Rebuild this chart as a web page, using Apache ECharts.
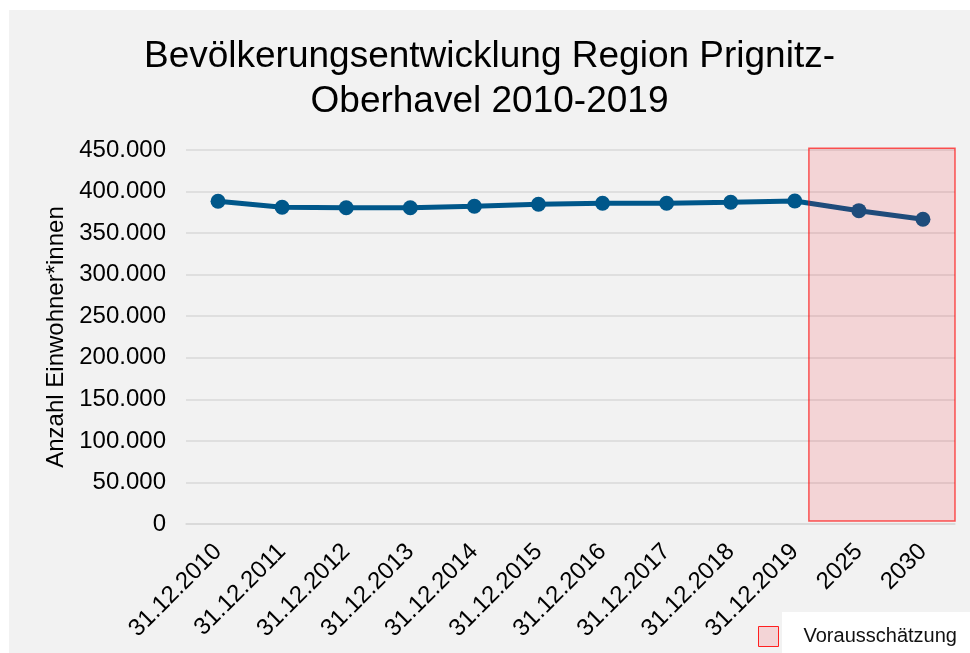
<!DOCTYPE html>
<html>
<head>
<meta charset="utf-8">
<script src="https://cdn.jsdelivr.net/npm/echarts@6/dist/echarts.min.js"></script>
<style>
  html, body { margin: 0; padding: 0; background: #ffffff; }
  #chart { position: absolute; left: 9px; top: 10px; width: 961px; height: 643px; }
</style>
</head>
<body>
<div id="chart"></div>
<script>
const categories = ['31.12.2010', '31.12.2011', '31.12.2012', '31.12.2013', '31.12.2014', '31.12.2015',
  '31.12.2016', '31.12.2017', '31.12.2018', '31.12.2019', '2025', '2030']
const population = [388300, 381100, 380600, 380600, 382300, 384700, 385900, 385900, 387100, 388600, 377000, 366600]
// Vorausschätzung-Bereich (ab 2019 bis 2030)
const forecastFrom = '31.12.2019'
const forecastTo = '2030'

const chart = echarts.init(document.getElementById('chart'))
const font = 'Liberation Sans, Arial, sans-serif'

const option = {
  backgroundColor: '#f2f2f2',
  animation: false,
  title: {
    text: 'Bevölkerungsentwicklung Region Prignitz-\nOberhavel 2010-2019',
    left: 'center',
    top: 19,
    textStyle: {
      fontFamily: font,
      fontSize: 37,
      fontWeight: 'normal',
      color: '#000000',
      lineHeight: 45
    }
  },
  grid: {
    left: 177,
    right: 15,
    top: 140,
    bottom: 129
  },
  legend: {
    left: 749,
    top: 616,
    icon: 'rect',
    itemWidth: 20,
    itemHeight: 20,
    padding: 0,
    textStyle: { fontFamily: font, fontSize: 20, color: '#111', padding: [0, 0, 0, 20] },
    data: [{ name: 'Vorausschätzung', itemStyle: { color: 'rgba(255,0,20,0.12)', borderColor: '#ff2020', borderWidth: 1 } }]
  },
  xAxis: {
    type: 'category',
    data: categories,
    axisLine: { show: true, lineStyle: { color: '#d9d9d9', width: 1.5 } },
    axisTick: { show: false },
    axisLabel: {
      rotate: 45,
      margin: 24,
      fontFamily: font,
      fontSize: 24,
      color: '#000'
    }
  },
  yAxis: {
    type: 'value',
    min: 0,
    max: 450000,
    interval: 50000,
    name: 'Anzahl Einwohner*innen',
    nameLocation: 'middle',
    nameGap: 112,
    nameTextStyle: { fontFamily: font, fontSize: 24, color: '#000' },
    axisLine: { show: false },
    axisTick: { show: false },
    splitLine: { lineStyle: { color: '#d9d9d9', width: 1.5 } },
    axisLabel: {
      margin: 20,
      fontFamily: font,
      fontSize: 24,
      color: '#000',
      formatter: v => v.toLocaleString('de-DE')
    }
  },
  series: [
    {
      name: 'Einwohner',
      type: 'line',
      data: population,
      symbol: 'circle',
      symbolSize: 15,
      lineStyle: { color: '#00578a', width: 5 },
      itemStyle: { color: '#00578a' },
      z: 3
    },
    {
      name: 'Vorausschätzung',
      type: 'bar',
      data: []
    }
  ]
}
chart.setOption(option)

// Vorausschätzung-Rechteck aus den Achsen berechnen
const i0 = categories.indexOf(forecastFrom)
const i1 = categories.indexOf(forecastTo)
const p0 = chart.convertToPixel({ gridIndex: 0 }, [i0, 0])
const p1 = chart.convertToPixel({ gridIndex: 0 }, [i1, 0])
const step = (p1[0] - p0[0]) / (i1 - i0)
const yTop = chart.convertToPixel({ yAxisIndex: 0 }, 452000)
const yBot = chart.convertToPixel({ yAxisIndex: 0 }, 3500)
const x0 = p0[0] + step * 0.22
const x1 = p1[0] + step * 0.5

chart.setOption({
  graphic: [
    {
      type: 'rect',
      z: 10,
      shape: { x: x0, y: yTop, width: x1 - x0, height: yBot - yTop },
      style: { fill: 'rgba(255,0,20,0.12)', stroke: 'rgba(255,0,0,0.65)', lineWidth: 1.5 }
    },
    {
      type: 'rect',
      z: -1,
      right: 0,
      bottom: 0,
      shape: { width: 188, height: 41 },
      style: { fill: '#ffffff' }
    }
  ]
})
</script>
</body>
</html>
